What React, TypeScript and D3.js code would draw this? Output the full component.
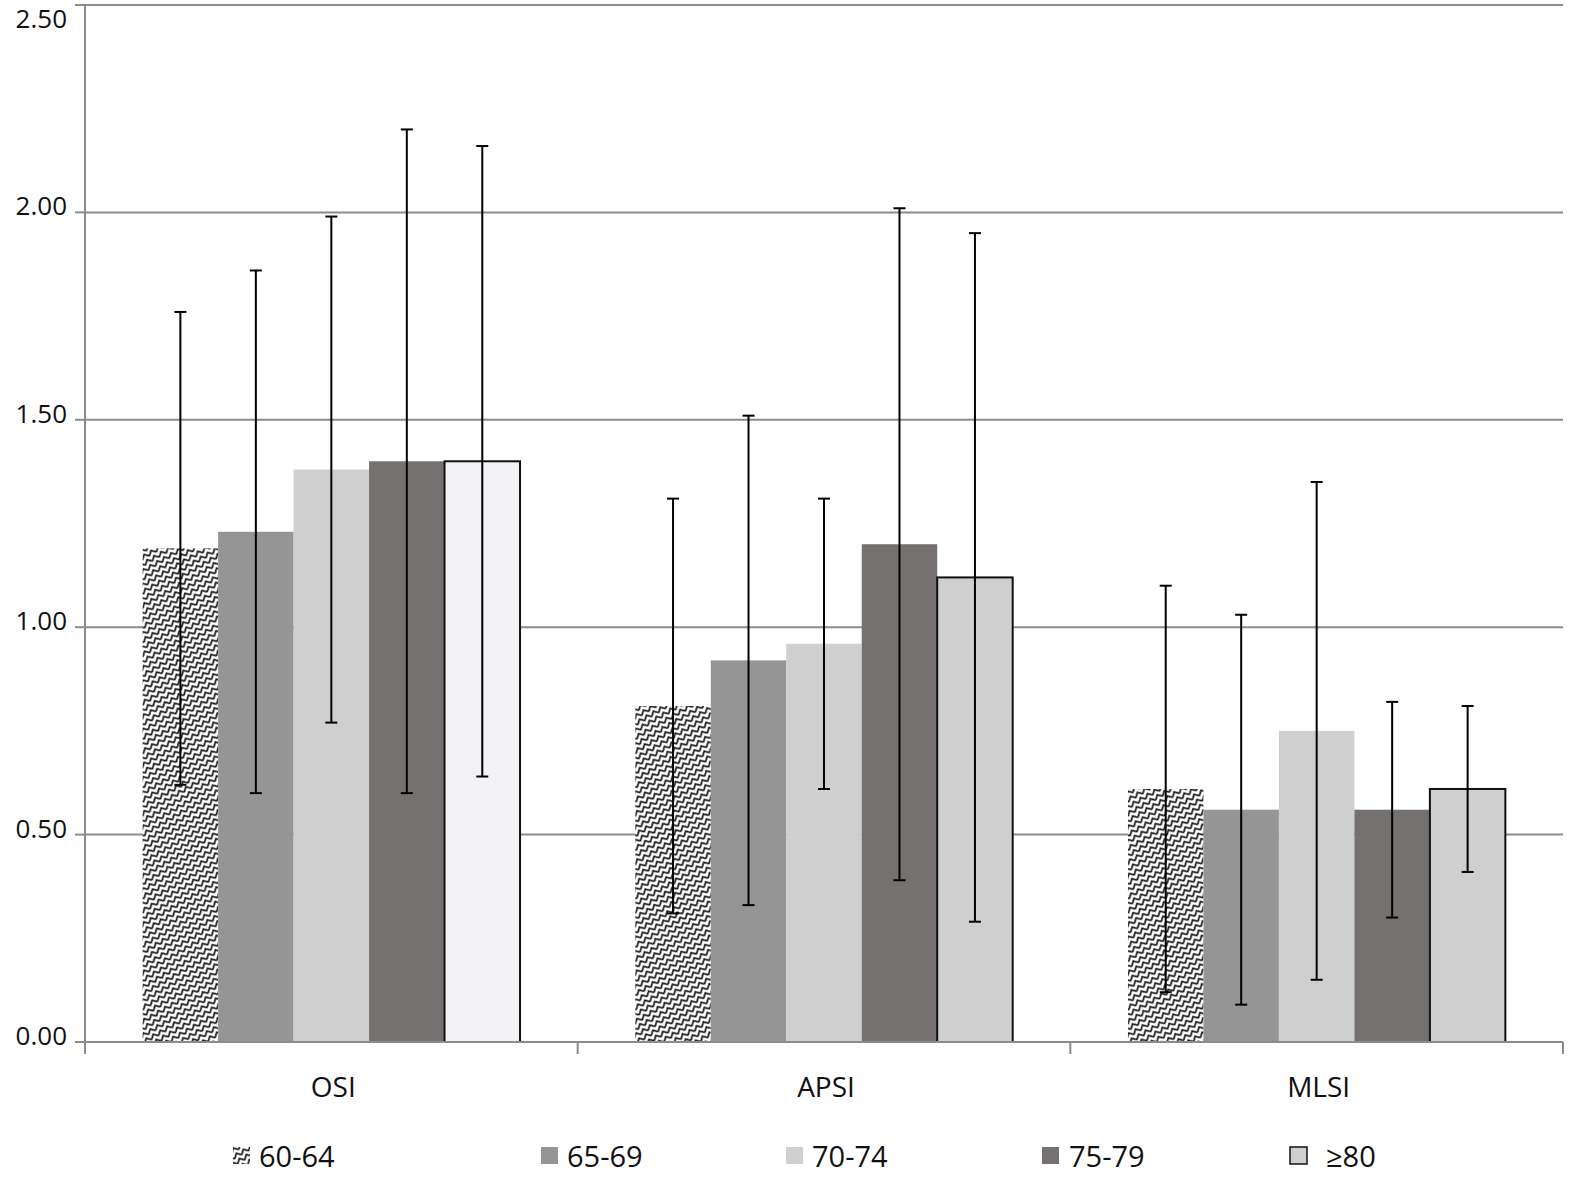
import React from "react";
import * as d3 from "d3";

const categories = ["OSI", "APSI", "MLSI"];
const seriesNames = ["60-64", "65-69", "70-74", "75-79", "≥80"];
const mean6064 = [1.19, 0.81, 0.61];
const mean6569 = [1.23, 0.92, 0.56];
const mean7074 = [1.38, 0.96, 0.75];
const mean7579 = [1.40, 1.20, 0.56];
const mean80 = [1.40, 1.12, 0.61];
const sd6064 = [0.57, 0.50, 0.49];
const sd6569 = [0.63, 0.59, 0.47];
const sd7074 = [0.61, 0.35, 0.60];
const sd7579 = [0.80, 0.81, 0.26];
const sd80 = [0.76, 0.83, 0.20];
const yTicks = [0, 0.5, 1.0, 1.5, 2.0, 2.5];

const means = [mean6064, mean6569, mean7074, mean7579, mean80];
const sds = [sd6064, sd6569, sd7074, sd7579, sd80];
const fills = ["url(#zig)", "#959595", "#d0cfd0", "#767171", "#d0cfd0"];

const W = 1574;
const H = 1179;
const left = 85;
const right = 1563;
const top = 5;
const bottom = 1042;
const font = "'Open Sans', 'DejaVu Sans', sans-serif";

export default function App() {
  const y = d3.scaleLinear().domain([0, 2.5]).range([bottom, top]);
  const x0 = d3.scaleBand().domain(categories).range([left, right]).paddingInner(0.234).paddingOuter(0.117);
  const x1 = d3.scaleBand().domain(seriesNames).range([0, x0.bandwidth()]);
  const catW = (right - left) / categories.length;

  const legendX = [233, 541, 786, 1042, 1290];
  const legendTextX = [259, 567, 812, 1069, 1326];

  return (
    <svg width={W} height={H} style={{ position: "absolute", left: 0, top: 0, background: "#fff" }}>
      <defs>
        <pattern id="zig" width="8" height="6" patternUnits="userSpaceOnUse" patternTransform="rotate(-30)">
          <rect width="8" height="6" fill="#fff" />
          <path d="M0,5 L4,1 L8,5" fill="none" stroke="#111" strokeWidth="1.7" />
        </pattern>
      </defs>
      {/* gridlines */}
      {yTicks.filter((t) => t > 0).map((t) => (
        <line key={t} x1={left} x2={right} y1={y(t)} y2={y(t)} stroke="#8c8c8c" strokeWidth={2} />
      ))}
      {/* y axis */}
      <line x1={left} x2={left} y1={top} y2={bottom} stroke="#8c8c8c" strokeWidth={2} />
      {yTicks.map((t) => (
        <g key={"yt" + t}>
          <line x1={left - 10} x2={left} y1={y(t)} y2={y(t)} stroke="#8c8c8c" strokeWidth={2} />
          <text
            x={67}
            y={t === 2.5 ? y(t) + 13 : y(t) - 7}
            textAnchor="end"
            dominantBaseline="central"
            fontFamily={font}
            fontSize={26}
            fill="#111"
          >
            {t.toFixed(2)}
          </text>
        </g>
      ))}
      {/* bars */}
      {categories.map((c, ci) => (
        <g key={c} transform={`translate(${x0(c)},0)`}>
          {seriesNames.map((s, si) => {
            const v = means[si][ci];
            const isLast = si === 4;
            const fill = isLast && ci === 0 ? "#f3f3f5" : fills[si];
            return (
              <rect
                key={s}
                x={x1(s)!}
                y={y(v)}
                width={x1.bandwidth()}
                height={bottom - y(v)}
                fill={fill}
                stroke={isLast ? "#111" : "none"}
                strokeWidth={isLast ? 2 : 0}
              />
            );
          })}
          {seriesNames.map((s, si) => {
            const v = means[si][ci];
            const sd = sds[si][ci];
            const cx = x1(s)! + x1.bandwidth() / 2;
            return (
              <g key={"e" + s}>
                <line x1={cx} x2={cx} y1={y(v + sd)} y2={y(v - sd)} stroke="#000" strokeWidth={2} />
                <line x1={cx - 6} x2={cx + 6} y1={y(v + sd)} y2={y(v + sd)} stroke="#000" strokeWidth={2} />
                <line x1={cx - 6} x2={cx + 6} y1={y(v - sd)} y2={y(v - sd)} stroke="#000" strokeWidth={2} />
              </g>
            );
          })}
        </g>
      ))}
      {/* x axis */}
      <line x1={left} x2={right} y1={bottom} y2={bottom} stroke="#8c8c8c" strokeWidth={2} />
      {d3.range(categories.length + 1).map((i) => (
        <line key={"xt" + i} x1={left + i * catW} x2={left + i * catW} y1={bottom} y2={bottom + 12} stroke="#8c8c8c" strokeWidth={2} />
      ))}
      {categories.map((c) => (
        <text
          key={"xl" + c}
          x={x0(c)! + x0.bandwidth() / 2 + 2}
          y={1086}
          textAnchor="middle"
          dominantBaseline="central"
          fontFamily={font}
          fontSize={28}
          fill="#111"
        >
          {c}
        </text>
      ))}
      {/* legend */}
      {seriesNames.map((s, i) => (
        <g key={"lg" + s}>
          <rect
            x={legendX[i]}
            y={1147}
            width={17}
            height={17}
            fill={i === 4 ? "#d0cfd0" : fills[i]}
            stroke={i === 4 ? "#111" : "none"}
            strokeWidth={i === 4 ? 1.5 : 0}
          />
          <text
            x={legendTextX[i]}
            y={1155}
            dominantBaseline="central"
            fontFamily={font}
            fontSize={29}
            fill="#111"
          >
            {s}
          </text>
        </g>
      ))}
    </svg>
  );
}
